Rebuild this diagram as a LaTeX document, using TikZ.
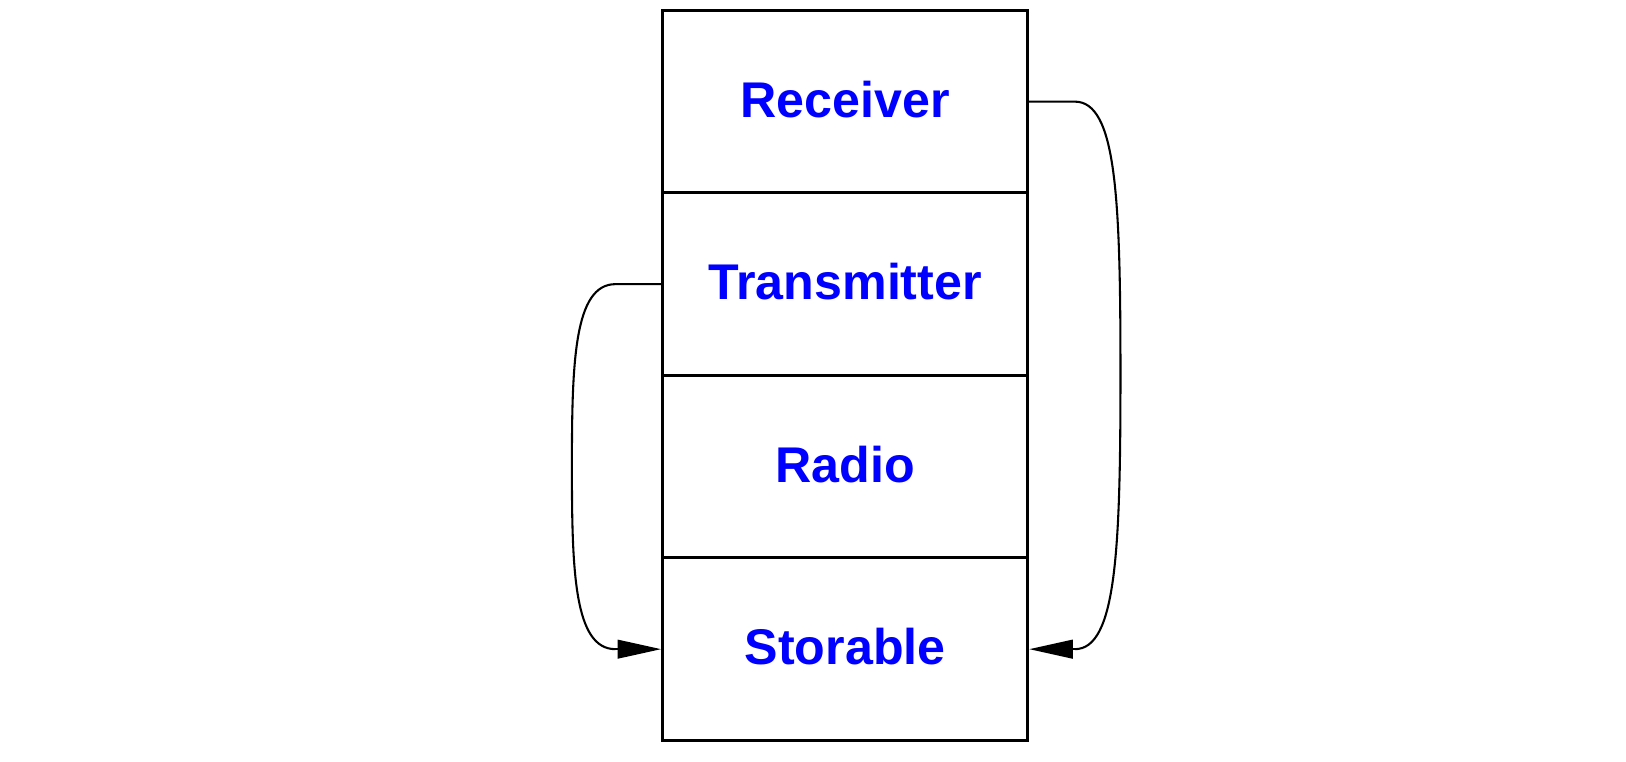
\documentclass[tikz,border=0pt]{standalone}
\usepackage{fontspec}
\setmainfont{Liberation Sans}
\usetikzlibrary{arrows.meta,calc}
\begin{document}
\begin{tikzpicture}[x=0.5pt,y=-0.5pt,
  layer/.style={draw=black,line width=1.5pt,minimum width=176pt,minimum height=88pt,
    inner sep=0pt,text=blue,font=\fontsize{24.2}{28}\selectfont\bfseries,
    text height=17.5pt,text depth=2.4pt},
  conn/.style={draw=black,line width=1pt},
  tip/.style={-{Triangle[length=21pt,width=9pt]}}]
\useasboundingbox (0,0) rectangle (1568,734);
\node[layer] (rec) at (815,98) {Receiver};
\node[layer] (tra) at (815,274) {Transmitter};
\node[layer] (rad) at (815,450) {Radio};
\node[layer] (sto) at (815,626) {Storable};
% right connector
\coordinate (r1) at ($(rec.east)+(44,0)$);
\coordinate (r2) at ($(rad.north east)+(88,0)$);
\coordinate (r3) at ($(sto.east)+(44,0)$);
\draw[conn] (rec.east) -- (r1) .. controls +(40,0) and +(0,-170) .. (r2)
  .. controls +(0,170) and +(40,0) .. (r3);
\draw[conn,tip] (r3) -- (sto.east);
% left connector
\coordinate (l1) at ($(tra.west)+(-44,0)$);
\coordinate (l2) at ($(rad.west)+(-86,0)$);
\coordinate (l3) at ($(sto.west)+(-44,0)$);
\draw[conn] (tra.west) -- (l1) .. controls +(-40,0) and +(0,-100) .. (l2)
  .. controls +(0,100) and +(-40,0) .. (l3);
\draw[conn,tip] (l3) -- (sto.west);
\end{tikzpicture}
\end{document}
